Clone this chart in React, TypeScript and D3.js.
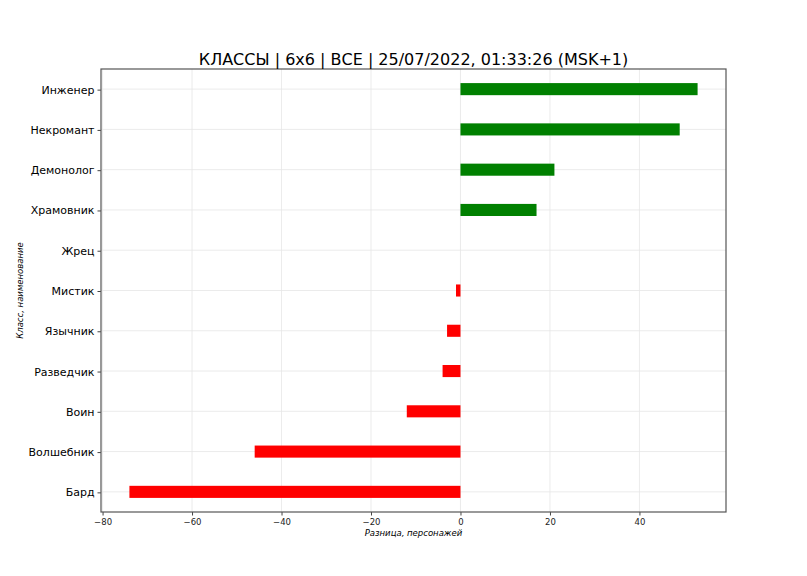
import * as d3 from "d3";
import { useEffect, useRef } from "react";

// Classes, top to bottom as drawn
const classes = [
    "Инженер",
    "Некромант",
    "Демонолог",
    "Храмовник",
    "Жрец",
    "Мистик",
    "Язычник",
    "Разведчик",
    "Воин",
    "Волшебник",
    "Бард",
];
// Difference, characters
const diffs = [53, 49, 21, 17, 0, -1, -3, -4, -12, -46, -74];
const xTicks = [-80, -60, -40, -20, 0, 20, 40];

const title = "КЛАССЫ | 6x6 | ВСЕ | 25/07/2022, 01:33:26 (MSK+1)";
const xLabel = "Разница, персонажей";
const yLabel = "Класс, наименование";

const App = () => {
    const svgRef = useRef<SVGSVGElement | null>(null);

    useEffect(() => {
        if (!svgRef.current) return;

        const width = 807;
        const height = 576;
        const margin = { top: 69, right: 81, bottom: 64, left: 101 };
        const font = "DejaVu Sans, sans-serif";

        const svg = d3.select(svgRef.current)
            .attr("width", width)
            .attr("height", height)
            .style("background", "#fff");
        svg.selectAll("*").remove();

        // matplotlib-like limits: 5% padding around the data
        const lo = d3.min(diffs)!;
        const hi = d3.max(diffs)!;
        const pad = (hi - lo) * 0.05;

        const x = d3.scaleLinear()
            .domain([lo - pad, hi + pad])
            .range([margin.left, width - margin.right]);

        // category index 0 at top, limits -0.5 .. n-0.5
        const y = d3.scaleLinear()
            .domain([-0.5, classes.length - 0.5])
            .range([margin.top, height - margin.bottom]);
        const barH = (y(0.3) - y(0));

        // grid
        const grid = svg.append("g");
        grid.selectAll("line.gx")
            .data(xTicks)
            .join("line")
            .attr("x1", d => x(d)).attr("x2", d => x(d))
            .attr("y1", margin.top).attr("y2", height - margin.bottom)
            .attr("stroke", "#e6e6e6").attr("stroke-width", 0.8);
        grid.selectAll("line.gy")
            .data(classes)
            .join("line")
            .attr("x1", margin.left).attr("x2", width - margin.right)
            .attr("y1", (_, i) => y(i)).attr("y2", (_, i) => y(i))
            .attr("stroke", "#e6e6e6").attr("stroke-width", 0.8);

        // bars
        svg.append("g")
            .selectAll("rect")
            .data(diffs)
            .join("rect")
            .attr("x", d => x(Math.min(0, d)))
            .attr("width", d => Math.abs(x(d) - x(0)))
            .attr("y", (_, i) => y(i) - barH / 2)
            .attr("height", barH)
            .attr("fill", d => (d >= 0 ? "#008000" : "#ff0000"));

        // x axis
        const xAxis = svg.append("g")
            .attr("transform", `translate(0,${height - margin.bottom})`)
            .call(d3.axisBottom(x).tickValues(xTicks).tickSize(3.5).tickPadding(3)
                .tickFormat(d => d3.format("d")(d as number).replace("-", "\u2212")));
        xAxis.select(".domain").remove();
        xAxis.selectAll("line").attr("stroke", "#444");
        xAxis.selectAll("text")
            .attr("font-family", font)
            .attr("font-size", 8.5)
            .attr("fill", "#222");

        // y axis
        const yAxis = svg.append("g")
            .attr("transform", `translate(${margin.left},0.5)`)
            .call(d3.axisLeft(y).tickValues(d3.range(classes.length)).tickSize(3.5).tickPadding(3)
                .tickFormat(d => classes[d as number]));
        yAxis.select(".domain").remove();
        yAxis.selectAll("line").attr("stroke", "#444");
        yAxis.selectAll("text")
            .attr("font-family", font)
            .attr("font-size", 11)
            .attr("fill", "#000");

        // frame
        svg.append("rect")
            .attr("x", margin.left)
            .attr("y", margin.top)
            .attr("width", width - margin.left - margin.right)
            .attr("height", height - margin.top - margin.bottom)
            .attr("fill", "none")
            .attr("stroke", "#555")
            .attr("stroke-width", 1.2);

        // title and labels
        svg.append("text")
            .attr("x", (margin.left + width - margin.right) / 2)
            .attr("y", 65)
            .attr("text-anchor", "middle")
            .attr("font-family", font)
            .attr("font-size", 16)
            .attr("fill", "#000")
            .text(title);

        svg.append("text")
            .attr("x", (margin.left + width - margin.right) / 2)
            .attr("y", 536)
            .attr("text-anchor", "middle")
            .attr("font-family", font)
            .attr("font-size", 8.5)
            .attr("font-style", "italic")
            .attr("fill", "#000")
            .text(xLabel);

        svg.append("text")
            .attr("transform", `translate(23,${(margin.top + height - margin.bottom) / 2}) rotate(-90)`)
            .attr("text-anchor", "middle")
            .attr("font-family", font)
            .attr("font-size", 8.5)
            .attr("font-style", "italic")
            .attr("fill", "#000")
            .text(yLabel);
    }, []);

    return <svg ref={svgRef} style={{ position: "absolute", left: 0, top: 0 }}></svg>;
};

export default App;
